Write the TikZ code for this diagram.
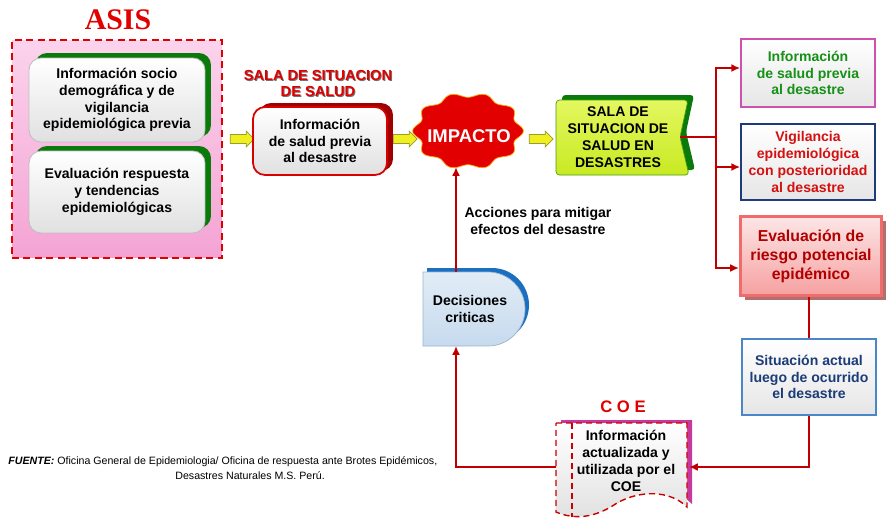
\documentclass[tikz,border=0pt]{standalone}
\usepackage{fontspec}
\setmainfont{Liberation Sans}
\newfontfamily\titleserif{Liberation Serif}
\usetikzlibrary{arrows.meta,shadows,shapes.arrows,calc}

\definecolor{linkred}{HTML}{C00000}
\definecolor{asisred}{HTML}{E00000}
\definecolor{pinktop}{HTML}{FBD3EC}
\definecolor{pinkbot}{HTML}{F4A3D4}
\definecolor{shadegreen}{HTML}{0A7A0A}
\definecolor{shadered}{HTML}{A00000}
\definecolor{limetop}{HTML}{E4F760}
\definecolor{limebot}{HTML}{C8EA22}
\definecolor{limeedge}{HTML}{4A9A10}
\definecolor{magedge}{HTML}{D050B0}
\definecolor{navyedge}{HTML}{1F3C7A}
\definecolor{infogreen}{HTML}{169016}
\definecolor{vigred}{HTML}{D41010}
\definecolor{riskedge}{HTML}{F26B6B}
\definecolor{risktop}{HTML}{FDE6E6}
\definecolor{riskbot}{HTML}{F6A0A0}
\definecolor{riskshade}{HTML}{B07070}
\definecolor{risktext}{HTML}{B00000}
\definecolor{bluedge}{HTML}{4A86C8}
\definecolor{navytext}{HTML}{1C3C78}
\definecolor{decfilltop}{HTML}{E2ECF6}
\definecolor{decfillbot}{HTML}{C6DAEE}
\definecolor{decshade}{HTML}{1A6FC0}
\definecolor{decedge}{HTML}{9AB4CC}
\definecolor{coeshade}{HTML}{C8399E}
\definecolor{yellowfill}{HTML}{F0F020}
\definecolor{yellowedge}{HTML}{9A9A30}
\definecolor{burstred}{HTML}{E20000}

\begin{document}
\begin{tikzpicture}[x=0.02cm,y=-0.02cm,
  lbl/.style={font=\bfseries\fontsize{8}{9.6}\selectfont, align=center, inner sep=0},
  card/.style={rounded corners=0.24cm, top color=white, bottom color=black!12, line width=0.5pt},
  plainbox/.style={top color=white, bottom color=black!10, line width=0.9pt},
  link/.style={draw=linkred, line width=1pt},
  tip/.style={-{Latex[length=5pt,width=4.5pt]}},
  yarrow/.style={single arrow, draw=yellowedge, fill=yellowfill, line width=0.4pt,
    minimum height=0.48cm, minimum width=0.32cm, single arrow head extend=0.07cm, inner sep=0.08cm}
]
\useasboundingbox (0,0) rectangle (895,518);

% ---- ASIS block ----
\node[font=\titleserif\bfseries\fontsize{17}{20}\selectfont, text=asisred] (asis) at (118,20) {ASIS};
\node[draw=asisred, dash pattern=on 4pt off 2.5pt, line width=0.8pt, top color=pinktop, bottom color=pinkbot,
  minimum width=4.2cm, minimum height=4.36cm, inner sep=0] (asisbox) at (117,149) {};
\node[card, lbl, draw=black!25, general shadow={fill=shadegreen, shadow xshift=0.12cm, shadow yshift=0.1cm},
  minimum width=3.52cm, minimum height=1.68cm] (info1) at (117,100)
  {Información socio\\demográfica y de\\vigilancia\\epidemiológica previa};
\node[card, lbl, draw=black!25, general shadow={fill=shadegreen, shadow xshift=0.12cm, shadow yshift=0.1cm},
  minimum width=3.52cm, minimum height=1.64cm] (info2) at (117,192)
  {Evaluación respuesta\\y tendencias\\epidemiológicas};

% ---- block arrows ----
\node[yarrow] (ya1) at (240,139) {};
\node[yarrow] (ya2) at (403,139) {};
\node[yarrow] (ya3) at (539,139) {};

% ---- Sala de situacion de salud ----
\node[lbl, font=\bfseries\fontsize{8.3}{9.1}\selectfont, text=black!55] at (319,84) {SALA DE SITUACION\\DE SALUD};
\node[lbl, font=\bfseries\fontsize{8.3}{9.1}\selectfont, text=asisred] (salatitle) at (318,83) {SALA DE SITUACION\\DE SALUD};
\node[card, lbl, draw=red!85!black, line width=1pt,
  general shadow={fill=shadered, shadow xshift=0.12cm, shadow yshift=0.08cm},
  minimum width=2.68cm, minimum height=1.36cm] (salabox) at (320,141)
  {Información\\de salud previa\\al desastre};

% ---- Impacto ----
\filldraw[fill=burstred, draw=orange!70!yellow, line width=0.4pt]
  plot[smooth cycle, samples=120, domain=0:357]
  ({468+52*(1+0.065*cos(10*\x))*cos(\x)}, {131+36*(1+0.065*cos(10*\x))*sin(\x)});
\node[font=\bfseries\fontsize{10.5}{12}\selectfont, text=white] (impacto) at (469,136) {IMPACTO};
\coordinate (impbot) at (456,167);

% ---- Sala de situacion de salud en desastres ----
\fill[shadegreen, rounded corners=2pt] (562,95) -- (694,95) -- (686,132) -- (695,170) -- (562,170) -- cycle;
\draw[limeedge, top color=limetop, bottom color=limebot, rounded corners=2pt]
  (556,100) -- (688,100) -- (680,137) -- (689,175) -- (556,175) -- cycle;
\node[lbl] (sala2) at (618,137) {SALA DE\\SITUACION DE\\SALUD EN\\DESASTRES};
\coordinate (notch) at (680,137);

% ---- right column ----
\node[plainbox, lbl, draw=magedge, text=infogreen, minimum width=2.68cm, minimum height=1.36cm] (b1) at (808,73)
  {Información\\de salud previa\\al desastre};
\node[plainbox, lbl, draw=navyedge, text=vigred, minimum width=2.68cm, minimum height=1.52cm] (b2) at (808,162)
  {Vigilancia\\epidemiológica\\con posterioridad\\al desastre};
\node[lbl, font=\bfseries\fontsize{9}{10.8}\selectfont, draw=riskedge, line width=1.7pt,
  top color=risktop, bottom color=riskbot, text=risktext,
  general shadow={fill=riskshade, shadow xshift=0.08cm, shadow yshift=-0.08cm},
  minimum width=2.82cm, minimum height=1.58cm] (b3) at (811,256)
  {Evaluación de\\riesgo potencial\\epidémico};
\node[plainbox, lbl, draw=bluedge, text=navytext, minimum width=2.68cm, minimum height=1.52cm] (b4) at (809,377)
  {Situación actual\\luego de ocurrido\\el desastre};

% ---- Decisiones criticas (delay shape) ----
\fill[decshade, shift={(4,-4)}] (423,272) -- (488,272) arc[start angle=90, end angle=-90, radius=0.74cm] -- (423,346) -- cycle;
\draw[decedge, line width=0.4pt, top color=decfilltop, bottom color=decfillbot]
  (423,272) -- (488,272) arc[start angle=90, end angle=-90, radius=0.74cm] -- (423,346) -- cycle;
\node[lbl, font=\bfseries\fontsize{8}{10}\selectfont] (dec) at (470,309) {Decisiones\\criticas};
\coordinate (dectop) at (456,272);
\coordinate (decbot) at (456,346);

% ---- COE document ----
\node[font=\bfseries\fontsize{9.5}{11}\selectfont, text=asisred] (coetitle) at (623,407) {C O E};
\fill[coeshade, shift={(5,-3)}] (556,423) -- (687,423) -- (687,507)
  .. controls (670,490) and (640,490) .. (617,503)
  .. controls (595,518) and (575,520) .. (556,512) -- cycle;
\draw[asisred!90!black, dash pattern=on 3.5pt off 2.2pt, line width=0.8pt, top color=white, bottom color=black!12]
  (556,423) -- (687,423) -- (687,507)
  .. controls (670,490) and (640,490) .. (617,503)
  .. controls (595,518) and (575,520) .. (556,512) -- cycle;
\draw[asisred!90!black, dash pattern=on 3.5pt off 2.2pt, line width=0.8pt] (572,423) -- (572,517);
\node[lbl, font=\bfseries\fontsize{8}{9.8}\selectfont] (coe) at (626,461) {Información\\actualizada y\\utilizada por el\\COE};
\coordinate (coeE) at (689,467);
\coordinate (coeW) at (556,467);

% ---- connectors ----
\coordinate (trunk) at (716,137);
\draw[link] (notch) -- (trunk);
\draw[link, tip] (trunk) |- ([yshift=0.1cm]b1.west);
\draw[link, tip] (trunk) |- ([yshift=-0.1cm]b2.west);
\draw[link, tip] (trunk) |- ([yshift=-0.24cm]b3.west);
\draw[link] (b4.north |- b3.south) -- (b4.north);
\draw[link, tip] (b4.south) |- (coeE);
\draw[link, tip] (coeW) -| (decbot);
\draw[link, tip] (dectop) -- (impbot);
\node[lbl] (acc) at (538,221) {Acciones para mitigar\\efectos del desastre};

% ---- source note ----
\node[anchor=west, font=\fontsize{6.05}{7}\selectfont, inner sep=0] (src1) at (8,462)
  {\textbf{\textit{FUENTE:}} Oficina General de Epidemiologia/ Oficina de respuesta ante Brotes Epidémicos,};
\node[anchor=west, font=\fontsize{6.05}{7}\selectfont, inner sep=0] (src2) at (175,476)
  {Desastres Naturales M.S. Perú.};
\end{tikzpicture}
\end{document}
